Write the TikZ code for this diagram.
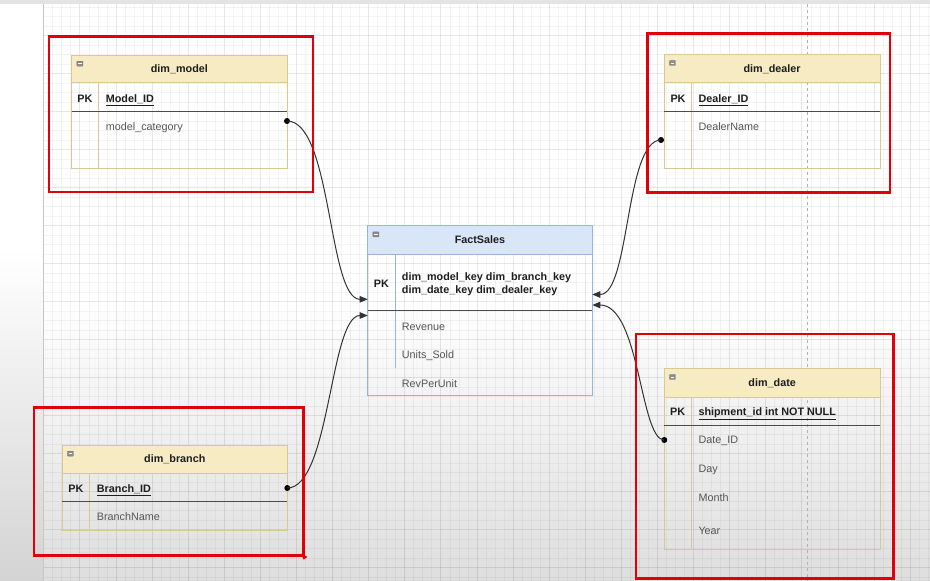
\documentclass[tikz,border=0pt]{standalone}
\usepackage{fontspec}
\setmainfont{Liberation Sans}
\usetikzlibrary{arrows.meta,calc}

\definecolor{hdrY}{HTML}{F7EBC3}
\definecolor{brdY}{HTML}{D6C994}
\definecolor{hdrB}{HTML}{D9E6F8}
\definecolor{brdB}{HTML}{9CB3D8}
\definecolor{redbox}{HTML}{E0000A}
\definecolor{fieldgray}{HTML}{555555}
\definecolor{keydark}{HTML}{1E1E1E}
\definecolor{wire}{HTML}{333333}

\tikzset{
  x=1pt, y=-1pt,
  tablebox/.style={draw=#1, line width=0.8pt, inner sep=0pt, outer sep=0pt, anchor=north west},
  headbox/.style={draw=#1, line width=0.8pt, inner sep=0pt, outer sep=0pt, anchor=north west,
    font=\fontsize{10.8}{12.7}\selectfont\bfseries, text=keydark, text height=9pt, text depth=1.4pt},
  keytext/.style={inner sep=0pt, font=\fontsize{10.8}{12.7}\selectfont\bfseries, text=keydark,
    text height=9pt, text depth=1.4pt},
  fieldtext/.style={inner sep=0pt, anchor=west, font=\fontsize{10.8}{12.7}\selectfont, text=fieldgray,
    text height=9pt, text depth=1.4pt},
  keyrule/.style={draw=black!70, line width=1.1pt},
  colrule/.style={draw=#1, line width=0.8pt},
  frame/.style={draw=redbox, line width=2.8pt, inner sep=0pt, outer sep=0pt, anchor=north west},
  collapse/.style={fill=black!45, draw=black!55, line width=0.3pt, inner sep=0pt,
    minimum width=6pt, minimum height=5pt, rounded corners=0.6pt, anchor=north west},
  fkdot/.style={circle, fill=black, inner sep=0pt, minimum size=6pt},
  rel/.style={draw=wire, line width=1pt, -{Triangle[length=8pt,width=6.5pt]}},
  minorgrid/.style={draw=black, opacity=0.045, line width=0.6pt},
  majorgrid/.style={draw=black, opacity=0.09, line width=0.8pt},
}

\begin{document}
\begin{tikzpicture}
% canvas and page background
\useasboundingbox (0,0) rectangle (930,581);
\fill[white] (0,0) rectangle (930,581);
\shade[top color=white, bottom color=black!13] (0,300) rectangle (930,581);
\shade[top color=white, bottom color=black!17] (0,250) rectangle (43.7,581);
\fill[black!11] (0,0) rectangle (930,4);

% drawing grid
\foreach \i in {0,...,98} {
  \pgfmathtruncatemacro{\m}{mod(\i,4)}
  \ifnum\m=0
    \draw[majorgrid] ({43.7+\i*9.025},4) -- ({43.7+\i*9.025},581);
  \else
    \draw[minorgrid] ({43.7+\i*9.025},4) -- ({43.7+\i*9.025},581);
  \fi
}
\foreach \j in {0,...,60} {
  \pgfmathtruncatemacro{\m}{mod(\j,4)}
  \ifnum\m=3
    \draw[majorgrid] (43.7,{7+\j*9.5}) -- (930,{7+\j*9.5});
  \else
    \draw[minorgrid] (43.7,{7+\j*9.5}) -- (930,{7+\j*9.5});
  \fi
}
\draw[black!22, line width=0.8pt] (43.7,4) -- (43.7,581);
\draw[black!30, line width=0.8pt, dash pattern=on 3pt off 3pt] (807.7,4) -- (807.7,581);

% ---------- dim_model ----------
\node[tablebox=brdY, minimum width=215.3pt, minimum height=113pt] (model) at (71.7,55) {};
\node[headbox=brdY, fill=hdrY, minimum width=215.3pt, minimum height=27.7pt] (model-h) at (model.north west) {dim\_model};
\node[collapse] (model-c) at ($(model.north west)+(5,6)$) {};
\draw[white, line width=0.8pt] ($(model-c.west)+(1.2,0)$) -- ($(model-c.east)+(-1.2,0)$);
\draw[colrule=brdY] (98.3,82.7) -- (98.3,168);
\draw[keyrule] (71.7,111.3) -- (287,111.3);
\node[keytext] (model-pk) at (85,98.3) {PK};
\node[keytext, anchor=west] (model-id) at (105.7,98.3) {\underline{Model\_ID}};
\node[fieldtext] (model-f1) at (105.7,126.7) {model\_category};

% ---------- dim_dealer ----------
\node[tablebox=brdY, minimum width=215.7pt, minimum height=114pt] (dealer) at (664.3,54.3) {};
\node[headbox=brdY, fill=hdrY, minimum width=215.7pt, minimum height=28.4pt] (dealer-h) at (dealer.north west) {dim\_dealer};
\node[collapse] (dealer-c) at ($(dealer.north west)+(5,6)$) {};
\draw[white, line width=0.8pt] ($(dealer-c.west)+(1.2,0)$) -- ($(dealer-c.east)+(-1.2,0)$);
\draw[colrule=brdY] (691.7,82.7) -- (691.7,168.3);
\draw[keyrule] (664.3,111.3) -- (880,111.3);
\node[keytext] (dealer-pk) at (678,98.3) {PK};
\node[keytext, anchor=west] (dealer-id) at (698.3,98.3) {\underline{Dealer\_ID}};
\node[fieldtext] (dealer-f1) at (698.3,126.7) {DealerName};

% ---------- FactSales ----------
\node[tablebox=brdB, minimum width=224.6pt, minimum height=170pt] (fact) at (367.7,225.7) {};
\node[headbox=brdB, fill=hdrB, minimum width=224.6pt, minimum height=28.3pt] (fact-h) at (fact.north west) {FactSales};
\node[collapse] (fact-c) at ($(fact.north west)+(5,6)$) {};
\draw[white, line width=0.8pt] ($(fact-c.west)+(1.2,0)$) -- ($(fact-c.east)+(-1.2,0)$);
\draw[colrule=brdB] (395,254) -- (395,368.3);
\draw[keyrule] (367.7,310.7) -- (592.3,310.7);
\node[keytext] (fact-pk) at (381.3,284) {PK};
\node[keytext, anchor=west, align=left, text height=, text depth=] (fact-keys) at (401.7,284.2)
  {dim\_model\_key dim\_branch\_key\\dim\_date\_key dim\_dealer\_key};
\node[fieldtext] (fact-f1) at (401.7,326.7) {Revenue};
\node[fieldtext] (fact-f2) at (401.7,355) {Units\_Sold};
\node[fieldtext] (fact-f3) at (401.7,383.3) {RevPerUnit};

% ---------- dim_date ----------
\node[tablebox=brdY, minimum width=215.7pt, minimum height=181pt] (date) at (664.3,368.3) {};
\node[headbox=brdY, fill=hdrY, minimum width=215.7pt, minimum height=29.4pt] (date-h) at (date.north west) {dim\_date};
\node[collapse] (date-c) at ($(date.north west)+(5,6)$) {};
\draw[white, line width=0.8pt] ($(date-c.west)+(1.2,0)$) -- ($(date-c.east)+(-1.2,0)$);
\draw[colrule=brdY] (691,397.7) -- (691,549.3);
\draw[keyrule] (664.3,425.7) -- (880,425.7);
\node[keytext] (date-pk) at (677.6,411.7) {PK};
\node[keytext, anchor=west] (date-id) at (698.3,411.7) {\underline{shipment\_id int NOT NULL}};
\node[fieldtext] (date-f1) at (698.3,440) {Date\_ID};
\node[fieldtext] (date-f2) at (698.3,468.3) {Day};
\node[fieldtext] (date-f3) at (698.3,497.3) {Month};
\node[fieldtext] (date-f4) at (698.3,531) {Year};

% ---------- dim_branch ----------
\node[tablebox=brdY, minimum width=225pt, minimum height=85pt] (branch) at (62.3,445) {};
\node[headbox=brdY, fill=hdrY, minimum width=225pt, minimum height=28.3pt] (branch-h) at (branch.north west) {dim\_branch};
\node[collapse] (branch-c) at ($(branch.north west)+(5,6)$) {};
\draw[white, line width=0.8pt] ($(branch-c.west)+(1.2,0)$) -- ($(branch-c.east)+(-1.2,0)$);
\draw[colrule=brdY] (89.7,473.3) -- (89.7,530);
\draw[keyrule] (62.3,501.7) -- (287.3,501.7);
\node[keytext] (branch-pk) at (76,488.3) {PK};
\node[keytext, anchor=west] (branch-id) at (96.7,488.3) {\underline{Branch\_ID}};
\node[fieldtext] (branch-f1) at (96.7,516.7) {BranchName};

% ---------- relationship end points ----------
\node[fkdot] (model-fk) at (287,121) {};
\node[fkdot] (dealer-fk) at (661,140) {};
\node[fkdot] (date-fk) at (664.3,440) {};
\node[fkdot] (branch-fk) at (287.3,488) {};
\coordinate (fact-in1) at (367.7,299.3);
\coordinate (fact-in2) at (367.7,315.5);
\coordinate (fact-in3) at (592.3,294.5);
\coordinate (fact-in4) at (592.3,305);

% ---------- relationships ----------
\draw[rel] (model-fk.center) .. controls (332,121) and (328,299.3) .. (fact-in1);
\draw[rel] (branch-fk.center) .. controls (330,488) and (330,315.5) .. (fact-in2);
\draw[rel] (dealer-fk.center) .. controls (625,140) and (630,294.5) .. (fact-in3);
\draw[rel] (date-fk.center) .. controls (640,440) and (640,305) .. (fact-in4);

% ---------- red highlight frames ----------
\node[frame, minimum width=264pt, minimum height=155.3pt] (model-frame) at (49,36.7) {};
\node[frame, minimum width=242.7pt, minimum height=159.4pt] (dealer-frame) at (647.3,33.3) {};
\node[frame, minimum width=257.3pt, minimum height=244.3pt] (date-frame) at (636,334) {};
\node[frame, minimum width=269.3pt, minimum height=148.4pt] (branch-frame) at (34,407.3) {};
\fill[redbox] (301,553.5) -- (307.5,557) -- (303.5,559.5) -- cycle;
\end{tikzpicture}
\end{document}
